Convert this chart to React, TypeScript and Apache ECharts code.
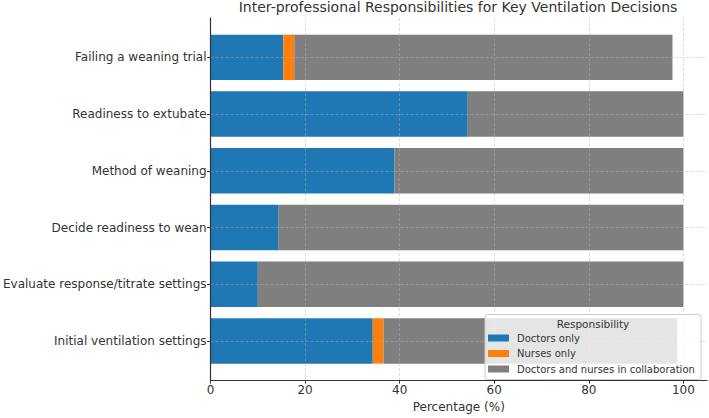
import React, { useEffect, useRef } from 'react';
import * as echarts from 'echarts';

const categories = [
  'Failing a weaning trial',
  'Readiness to extubate',
  'Method of weaning',
  'Decide readiness to wean',
  'Evaluate response/titrate settings',
  'Initial ventilation settings',
];
const doctorsOnly = [15.4, 54.4, 38.9, 14.3, 10.0, 34.3];
const nursesOnly = [2.3, 0, 0, 0, 0, 2.3];
const collaboration = [80.0, 45.6, 61.1, 85.7, 90.0, 62.1];
const seriesNames = ['Doctors only', 'Nurses only', 'Doctors and nurses in collaboration'];
const seriesColors = ['#1f77b4', '#ff7f0e', '#7f7f7f'];
const xTicks = [0, 20, 40, 60, 80, 100];
const chartTitle = 'Inter-professional Responsibilities for Key Ventilation Decisions';
const xAxisName = 'Percentage (%)';
const legendTitle = 'Responsibility';

const FONT = '"DejaVu Sans", sans-serif';
const TEXT = '#333333';

export default function App() {
  const ref = useRef<HTMLDivElement>(null);
  useEffect(() => {
    const chart = echarts.init(ref.current!, null, { renderer: 'svg' });
    const groups = [doctorsOnly, nursesOnly, collaboration];
    const catIdx = categories.map((_, i) => i);
    const series = groups.map((vals, si) => ({
      type: 'custom',
      name: seriesNames[si],
      itemStyle: { color: seriesColors[si] },
      encode: { x: [0, 1], y: 2 },
      z: 2,
      data: vals.map((v, i) => {
        const start = groups.slice(0, si).reduce((s, g) => s + g[i], 0);
        return [start, start + v, i];
      }),
      renderItem: (params: any, api: any) => {
        const s = api.coord([api.value(0), api.value(2)]);
        const e = api.coord([api.value(1), api.value(2)]);
        const h = api.size([0, 0.8])[1];
        return {
          type: 'rect',
          shape: { x: s[0], y: s[1] - h / 2, width: e[0] - s[0], height: h },
          style: { fill: seriesColors[si] },
        };
      },
    }));
    const gridLine = { show: true, lineStyle: { color: '#b0b0b0', opacity: 0.6, width: 0.8, type: [3, 2] } };
    chart.setOption({
      animation: false,
      title: {
        text: chartTitle,
        left: 458,
        top: 0,
        padding: 0,
        textAlign: 'center',
        textStyle: { fontFamily: FONT, fontSize: 14, fontWeight: 'normal', color: TEXT },
      },
      grid: { left: 210, right: 2, top: 18.2, bottom: 34.2, containLabel: false },
      xAxis: {
        type: 'value',
        min: 0,
        max: 105,
        z: 5,
        name: xAxisName,
        nameLocation: 'middle',
        nameGap: 18.5,
        nameTextStyle: { fontFamily: FONT, fontSize: 12, color: TEXT },
        axisLine: { show: true, onZero: false, lineStyle: { color: '#333', width: 1.2 } },
        axisTick: { show: true, length: 3.5, customValues: xTicks, lineStyle: { color: '#333' } },
        axisLabel: { customValues: xTicks, margin: 4, fontFamily: FONT, fontSize: 12, color: TEXT },
        splitLine: { ...gridLine, customValues: xTicks } as any,
      },
      yAxis: {
        type: 'value',
        min: -0.69,
        max: 5.69,
        inverse: true,
        z: 5,
        axisLine: { show: true, onZero: false, lineStyle: { color: '#333', width: 1.2 } },
        axisTick: { show: true, length: 3.5, customValues: catIdx, lineStyle: { color: '#333' } },
        axisLabel: {
          customValues: catIdx,
          margin: 4,
          fontFamily: FONT,
          fontSize: 12,
          color: TEXT,
          formatter: (v: number) => categories[Math.round(v)] ?? '',
        },
        splitLine: gridLine,
      },
      legend: {
        orient: 'vertical',
        left: 488,
        top: 332,
        z: 21,
        padding: 0,
        itemWidth: 21,
        itemHeight: 7,
        itemGap: 3.5,
        icon: 'rect',
        data: seriesNames,
        textStyle: { fontFamily: FONT, fontSize: 10, color: TEXT, lineHeight: 12, padding: [0, 0, 0, 3] },
      },
      graphic: [
        {
          type: 'rect',
          z: 20,
          shape: { x: 485, y: 314.5, width: 216, height: 65, r: 2.5 },
          style: { fill: 'rgba(255,255,255,0.8)', stroke: '#cccccc', lineWidth: 1 },
        },
        {
          type: 'text',
          z: 21,
          x: 593,
          y: 323.5,
          style: {
            text: legendTitle,
            fontFamily: FONT,
            fontSize: 10.5,
            fill: TEXT,
            align: 'center',
            verticalAlign: 'middle',
          },
        },
      ],
      series,
    } as any);
    return () => chart.dispose();
  }, []);
  return <div ref={ref} style={{ position: 'absolute', left: 0, top: 0, width: 709, height: 418 }} />;
}
